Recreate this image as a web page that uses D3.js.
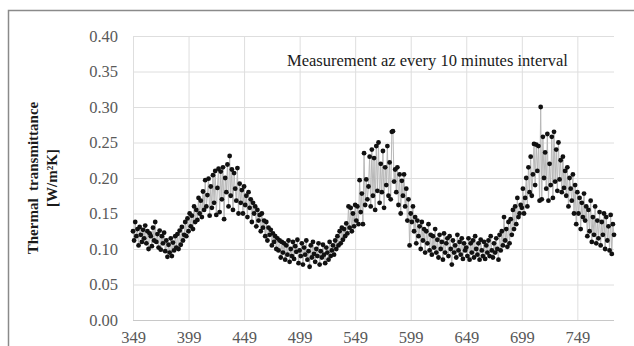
<!DOCTYPE html>
<html>
<head>
<meta charset="utf-8">
<script src="https://cdn.jsdelivr.net/npm/d3@7"></script>
<style>
  html, body { margin: 0; padding: 0; background: #fff; }
  svg { display: block; }
</style>
</head>
<body>
<div id="chart"></div>
<script>
// measurement index range (one reading every 10 minutes)
const startIndex = 349;
const xTicks = [349, 399, 449, 499, 549, 599, 649, 699, 749];
const yTicks = [0, 0.05, 0.10, 0.15, 0.20, 0.25, 0.30, 0.35, 0.40];

// U-values, rows of 10 readings starting at 349
const uValues = [
  .125,.112,.138,.118,.128,.105,.131,.120,.110,.127,
  .115,.133,.108,.125,.100,.122,.118,.104,.130,.112,
  .138,.110,.121,.102,.126,.099,.118,.108,.123,.097,
  .112,.089,.106,.095,.115,.090,.109,.098,.118,.102,
  .121,.100,.126,.106,.131,.112,.120,.138,.118,.143,
  .125,.150,.132,.147,.128,.160,.138,.155,.141,.172,
  .150,.168,.145,.181,.155,.197,.160,.176,.199,.147,
  .188,.158,.204,.165,.210,.148,.186,.213,.152,.209,
  .170,.215,.142,.200,.180,.219,.160,.231,.175,.212,
  .155,.207,.185,.168,.214,.150,.192,.165,.183,.150,
  .188,.162,.175,.145,.180,.158,.170,.138,.165,.150,
  .160,.132,.155,.140,.148,.125,.150,.130,.140,.118,
  .138,.112,.130,.120,.127,.105,.122,.110,.118,.100,
  .115,.098,.112,.088,.110,.095,.108,.085,.105,.092,
  .112,.082,.100,.090,.110,.086,.104,.096,.113,.080,
  .098,.090,.108,.078,.102,.092,.112,.085,.097,.075,
  .105,.088,.110,.093,.082,.100,.090,.108,.078,.097,
  .088,.106,.092,.080,.102,.095,.085,.110,.090,.098,
  .105,.092,.112,.100,.118,.105,.125,.108,.130,.113,
  .128,.118,.136,.122,.160,.130,.158,.125,.150,.132,
  .162,.140,.160,.135,.197,.152,.178,.135,.235,.162,
  .198,.170,.188,.230,.160,.240,.175,.228,.155,.245,
  .182,.250,.165,.220,.180,.238,.158,.215,.190,.245,
  .175,.222,.170,.265,.266,.195,.212,.180,.215,.162,
  .205,.150,.196,.175,.205,.160,.185,.140,.170,.105,
  .150,.138,.160,.125,.145,.108,.140,.118,.132,.100,
  .138,.112,.128,.095,.125,.108,.135,.098,.120,.092,
  .118,.102,.128,.095,.113,.088,.120,.100,.110,.085,
  .122,.095,.108,.115,.090,.118,.100,.078,.112,.095,
  .105,.088,.120,.098,.110,.092,.115,.086,.108,.098,
  .102,.090,.115,.085,.108,.095,.112,.088,.118,.100,
  .092,.108,.085,.113,.098,.090,.110,.086,.105,.095,
  .112,.090,.118,.098,.088,.108,.095,.115,.100,.085,
  .120,.098,.125,.105,.145,.112,.128,.103,.138,.108,
  .142,.120,.155,.128,.160,.135,.172,.145,.150,.162,
  .158,.185,.150,.172,.200,.160,.215,.180,.230,.175,
  .205,.248,.190,.247,.210,.245,.168,.300,.170,.258,
  .200,.236,.185,.262,.168,.220,.190,.258,.172,.265,
  .195,.240,.182,.250,.198,.225,.180,.230,.186,.210,
  .175,.215,.160,.200,.185,.168,.205,.150,.190,.135,
  .180,.150,.172,.128,.165,.145,.178,.140,.160,.118,
  .155,.125,.168,.110,.145,.120,.160,.108,.140,.115,
  .152,.105,.138,.120,.150,.100,.145,.112,.132,.098,
  .148,.093,.135,.120
];

const annotation = 'Measurement az every 10 minutes interval';
const yTitle = ['Thermal  transmittance', '[W/m\u00B2K]'];

const width = 634, height = 346;
const plot = { left: 133, right: 614, top: 36, bottom: 320 };

const data = uValues.map((v, i) => ({ x: startIndex + i, y: v }));

const svg = d3.select('#chart').append('svg')
  .attr('width', width)
  .attr('height', height);

// outer chart frame
svg.append('rect')
  .attr('x', 8.5).attr('y', 10.5)
  .attr('width', 700).attr('height', 500)
  .attr('fill', 'none')
  .attr('stroke', '#8a8a8a')
  .attr('stroke-width', 1.5);

const x = d3.scaleLinear()
  .domain([startIndex, startIndex + uValues.length - 1])
  .range([plot.left, plot.right]);
const y = d3.scaleLinear()
  .domain([0, 0.40])
  .range([plot.bottom, plot.top]);

const serif = '"Liberation Serif", "Times New Roman", serif';

// horizontal grid + y labels
const yAxis = d3.axisLeft(y)
  .tickValues(yTicks)
  .tickFormat(d3.format('.2f'))
  .tickSize(-(plot.right - plot.left))
  .tickPadding(15);
const gY = svg.append('g')
  .attr('transform', `translate(${plot.left},0)`)
  .call(yAxis);
gY.select('.domain').remove();
gY.selectAll('line')
  .attr('stroke', d => d === 0 ? '#c8c8c8' : '#dedede')
  .attr('stroke-width', 1);
gY.selectAll('text')
  .attr('fill', '#595959')
  .style('font-family', serif)
  .style('font-size', '16.5px');

// vertical grid + x labels
const xAxis = d3.axisBottom(x)
  .tickValues(xTicks)
  .tickFormat(d3.format('d'))
  .tickSize(-(plot.bottom - plot.top))
  .tickPadding(11);
const gX = svg.append('g')
  .attr('transform', `translate(0,${plot.bottom})`)
  .call(xAxis);
gX.select('.domain').remove();
gX.selectAll('line')
  .attr('stroke', '#dedede')
  .attr('stroke-width', 1);
gX.selectAll('text')
  .attr('fill', '#595959')
  .style('font-family', serif)
  .style('font-size', '16.5px');

// series: thin grey line with black markers
const line = d3.line()
  .x(d => x(d.x))
  .y(d => y(d.y));

svg.append('path')
  .datum(data)
  .attr('fill', 'none')
  .attr('stroke', '#b8b8b8')
  .attr('stroke-width', 1)
  .attr('d', line);

svg.append('g')
  .selectAll('circle')
  .data(data)
  .enter()
  .append('circle')
  .attr('cx', d => x(d.x))
  .attr('cy', d => y(d.y))
  .attr('r', 2.4)
  .attr('fill', '#111');

// annotation
svg.append('text')
  .attr('x', 287).attr('y', 66)
  .style('font-family', serif)
  .style('font-size', '16.5px')
  .attr('fill', '#1a1a1a')
  .text(annotation);

// y title, two rotated lines
const titleG = svg.append('g')
  .attr('transform', `translate(0,${(plot.top + plot.bottom) / 2})`);
yTitle.forEach((t, i) => {
  titleG.append('text')
    .attr('transform', `translate(${38 + i * 19},0) rotate(-90)`)
    .attr('text-anchor', 'middle')
    .style('font-family', serif)
    .style('font-size', '15px')
    .style('font-weight', 'bold')
    .style('white-space', 'pre')
    .attr('fill', '#1a1a1a')
    .text(t);
});
</script>
</body>
</html>
